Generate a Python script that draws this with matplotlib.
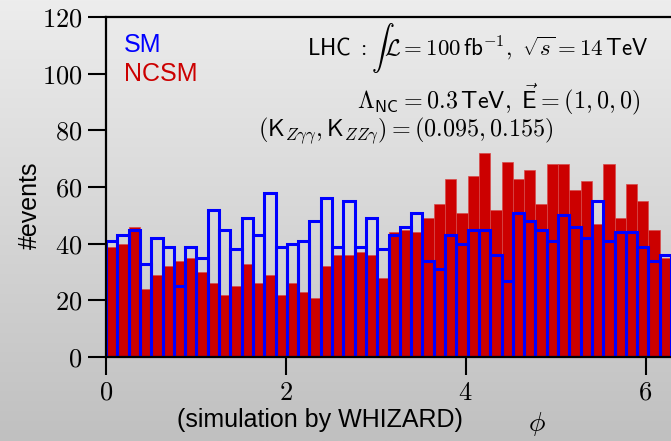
import numpy as np
import matplotlib
matplotlib.use("Agg")
import matplotlib.pyplot as plt
from matplotlib.colors import LinearSegmentedColormap

plt.rcParams['mathtext.fontset'] = 'cm'
plt.rcParams['font.family'] = ['Liberation Sans', 'DejaVu Sans']

# ---- data ----
n_bins = 50
phi_range = (0.0, 2 * np.pi)
sm_counts = [41, 43, 45, 33, 42, 39, 25, 39, 35, 52,
             45, 38, 49, 43, 58, 39, 40, 41, 48, 56,
             39, 55, 39, 49, 38, 43, 46, 51, 34, 31,
             43, 40, 45, 45, 36, 27, 51, 48, 45, 41,
             50, 46, 42, 55, 41, 44, 44, 39, 34, 36]
ncsm_counts = [39, 40, 46, 24, 29, 32, 34, 35, 30, 26,
               22, 25, 33, 26, 29, 22, 26, 23, 21, 32,
               36, 36, 37, 36, 28, 44, 45, 44, 49, 54,
               63, 51, 64, 72, 52, 69, 63, 66, 54, 68,
               68, 59, 62, 47, 68, 49, 61, 55, 45, 35]
x_ticks = [0, 2, 4, 6]
y_ticks = [0, 20, 40, 60, 80, 100, 120]

edges = np.linspace(phi_range[0], phi_range[1], n_bins + 1)
widths = np.diff(edges)

W, H = 671, 441
fig = plt.figure(figsize=(W / 100, H / 100), dpi=100)

# gradient background
bg = fig.add_axes([0, 0, 1, 1], zorder=-10)
cmap = LinearSegmentedColormap.from_list('g', ['#ededed', '#c0c0c0'])
bg.imshow(np.linspace(0, 1, 256).reshape(-1, 1), aspect='auto', cmap=cmap,
          extent=[0, 1, 0, 1])
bg.set_axis_off()

ax = fig.add_axes([106 / W, 84 / H, (W - 106) / W, 340 / H])
ax.patch.set_alpha(0)

ax.bar(edges[:-1], ncsm_counts, width=widths, align='edge',
       color='#cc0000', edgecolor='#d84a4a', linewidth=0.5, zorder=2)
ax.bar(edges[:-1], sm_counts, width=widths, align='edge',
       fill=False, edgecolor='#0000ff', linewidth=2.2, zorder=3)

ax.set_xlim(phi_range)
ax.set_ylim(0, 120)
ax.set_xticks(x_ticks)
ax.set_xticklabels([f'${t}$' for t in x_ticks])
ax.set_yticks(y_ticks)
ax.set_yticklabels([f'${t}$' for t in y_ticks])
ax.tick_params(direction='out', length=13, width=1.5, labelsize=19,
               top=False, right=False, pad=4)
for s in ['left', 'top', 'bottom']:
    ax.spines[s].set_linewidth(1.6)
    ax.spines[s].set_zorder(5)
ax.spines['right'].set_visible(False)

# labels
fig.text(30 / W, 1 - 205 / H, '#events', rotation=90, fontsize=18,
         ha='center', va='center')
fig.text(320 / W, 1 - 420 / H, '(simulation by WHIZARD)', fontsize=18,
         ha='center', va='center')
fig.text(537 / W, 1 - 424 / H, r'$\phi$', fontsize=20, ha='center', va='center')

fig.text(124 / W, 1 - 45 / H, 'SM', color='#0000ff', fontsize=18,
         ha='left', va='center')
fig.text(124 / W, 1 - 74 / H, 'NCSM', color='#cc0000', fontsize=18,
         ha='left', va='center')

fig.text(648 / W, 1 - 48 / H,
         r'$\mathsf{LHC}\ \mathsf{:}\int\mathcal{L}=100\,\mathsf{fb}^{-1},\ \sqrt{s}=14\,\mathsf{TeV}$',
         fontsize=16.5, ha='right', va='center')
fig.text(640 / W, 1 - 99 / H,
         r'$\mathsf{\Lambda}_{\mathsf{NC}}=0.3\,\mathsf{TeV},\ \vec{\mathsf{E}}=(1,0,0)$',
         fontsize=17.4, ha='right', va='center')
fig.text(258 / W, 1 - 131 / H,
         r'$(\mathsf{K}_{Z\gamma\gamma},\mathsf{K}_{ZZ\gamma})=(0.095,0.155)$',
         fontsize=17.4, ha='left', va='center')

fig.savefig('out.png', dpi=100)
